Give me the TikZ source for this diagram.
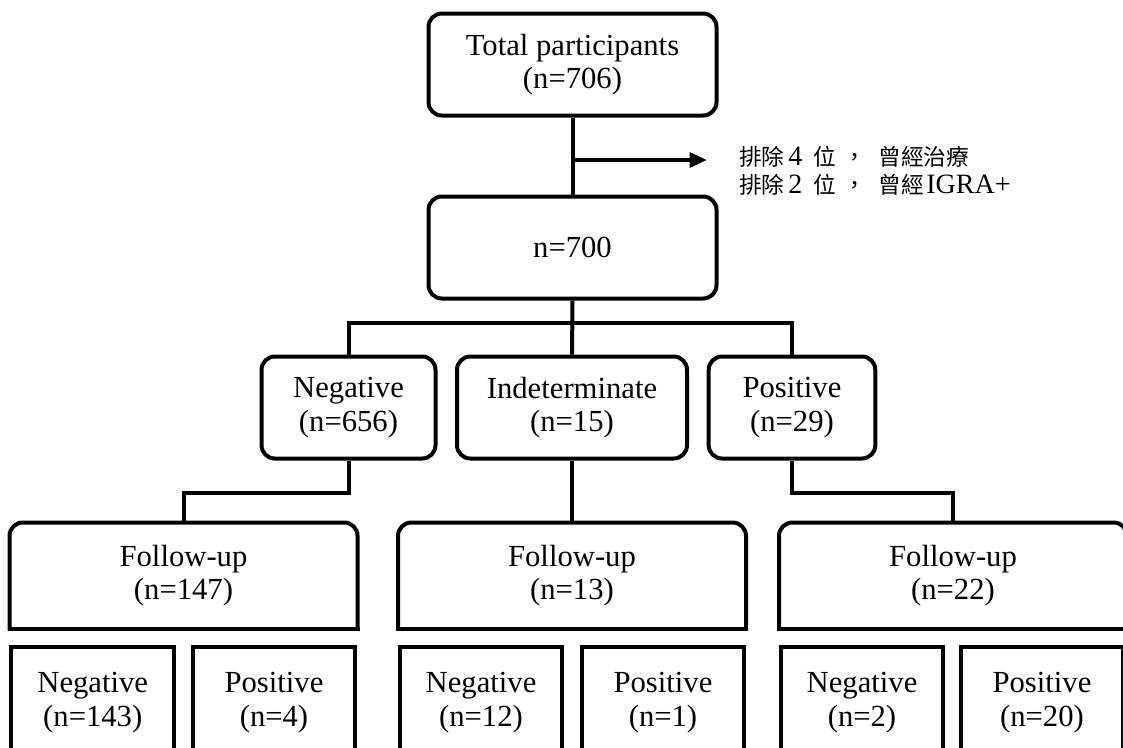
\documentclass[tikz,border=0pt]{standalone}
\usepackage{fontspec}
\setmainfont{Liberation Serif}
\newfontfamily\cjk{Noto Sans CJK TC}
\newcommand{\zh}[1]{{\cjk\fontsize{17}{21}\selectfont #1}}
\usetikzlibrary{arrows.meta}

\tikzset{
  box/.style={draw,rounded corners=10pt,align=center,inner sep=0pt,
    minimum height=76.5pt,font=\fontsize{23}{25}\selectfont},
  fubox/.style={align=center,inner sep=0pt,minimum width=258pt,
    minimum height=76.5pt,font=\fontsize{23}{25}\selectfont},
  leaf/.style={draw,align=center,inner sep=0pt,minimum width=122pt,
    minimum height=84pt,font=\fontsize{23}{25}\selectfont},
  link/.style={draw,line width=3pt}
}

\begin{document}
\begin{tikzpicture}[x=0.75pt,y=-0.75pt,line width=3pt]

      \useasboundingbox (0,0) rectangle (1123,747);
      \clip (0,0) rectangle (1123,747);

      % top of the chart
      \node[box,minimum width=216pt] (total) at (572.5,64.5) {Total participants\\(n=706)};
      \node[box,minimum width=216pt] (n700)  at (572.5,247.5) {n=700};
      \node[anchor=west,inner sep=0pt,align=left,font=\fontsize{21}{21}\selectfont] (note) at (737,171)
        {\zh{排除}\hspace{3pt}4\hspace{8pt}\zh{位}\hspace{6pt}\zh{，}\hspace{9pt}\zh{曾經治療}\\
         \zh{排除}\hspace{3pt}2\hspace{8pt}\zh{位}\hspace{6pt}\zh{，}\hspace{9pt}\zh{曾經}\hspace{2pt}IGRA+};

      % first test
      \node[box,minimum width=130.5pt] (neg) at (348.5,407.5) {Negative\\(n=656)};
      \node[box,minimum width=172.5pt] (ind) at (572,407.5)   {Indeterminate\\(n=15)};
      \node[box,minimum width=125pt]   (pos) at (792,407.5)   {Positive\\(n=29)};

      % follow-up, square at the bottom
      \node[fubox] (fu1) at (183.5,575.5) {Follow-up\\(n=147)};
      \node[fubox] (fu2) at (572,575.5)   {Follow-up\\(n=13)};
      \node[fubox] (fu3) at (953,575.5)   {Follow-up\\(n=22)};
      \foreach \f in {fu1,fu2,fu3} {
        \draw[rounded corners=10pt,line cap=rect] (\f.south west) -- (\f.north west)
          -- (\f.north east) -- (\f.south east);
        \draw[line cap=rect] (\f.south west) -- (\f.south east);
      }

      % second test
      \node[leaf] (neg1) at (92.75,702.5) {Negative\\(n=143)};
      \node[leaf] (pos1) at (274,702.5)   {Positive\\(n=4)};
      \node[leaf] (neg2) at (481,702.5)   {Negative\\(n=12)};
      \node[leaf] (pos2) at (663,702.5)   {Positive\\(n=1)};
      \node[leaf] (neg3) at (862,702.5)   {Negative\\(n=2)};
      \node[leaf] (pos3) at (1042,702.5)  {Positive\\(n=20)};

      \coordinate (ex)    at (572.5,160);
      \coordinate (exend) at (707,160);
      \coordinate (bar)   at (572,323);

      \path[link] (total) -- (n700);
      \path[link,-{Triangle[length=13pt,width=11pt]}] (ex) -- (exend);
      \path[link] (n700) -- (ind);
      \path[link] (neg.north) -- (neg.north |- bar) -| (pos.north);
      \path[link] (neg.south) -- ++(0,32) -| (fu1.north);
      \path[link] (ind) -- (fu2);
      \path[link] (pos.south) -- ++(0,32) -| (fu3.north);

    \end{tikzpicture}
\end{document}
